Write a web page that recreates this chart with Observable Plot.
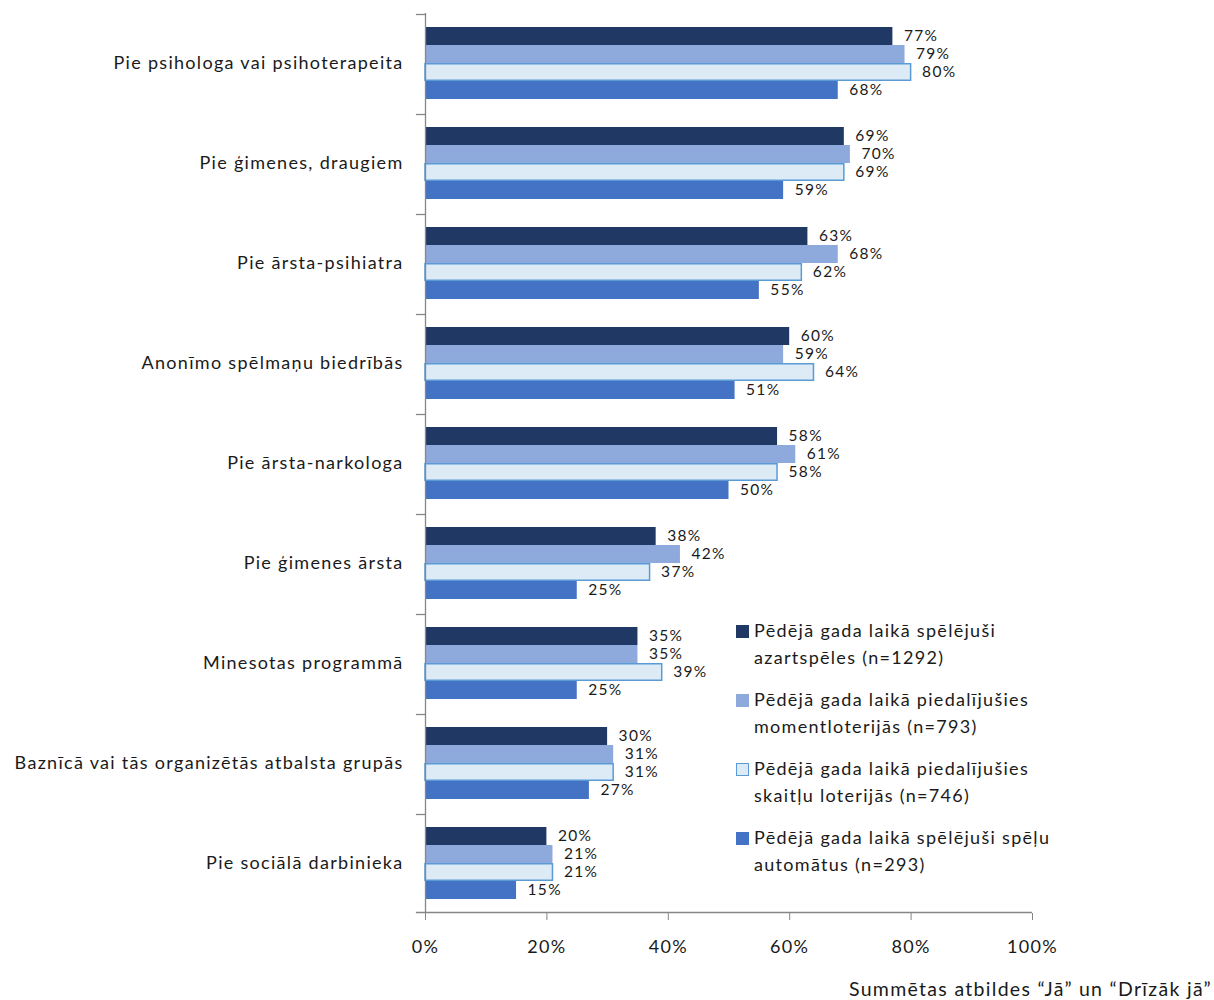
<!DOCTYPE html>
<html>
<head>
<meta charset="utf-8">
<script src="https://cdn.jsdelivr.net/npm/d3@7"></script>
<script src="https://cdn.jsdelivr.net/npm/@observablehq/plot@0.6"></script>
<style>
  body { margin: 0; background: #fff; font-family: Lato, "Open Sans", sans-serif; color: #1a1a1a; }
  #wrap { position: relative; width: 1214px; height: 1000px; }
  #legend { position: absolute; left: 736px; top: 617px; font-size: 18px; letter-spacing: 1.3px; }
  .item { display: flex; align-items: flex-start; margin-bottom: 15px; line-height: 27px; }
  .sw { width: 13px; height: 13px; margin-top: 8px; margin-right: 5px; box-sizing: border-box; flex: none; }
  #caption { position: absolute; right: 2px; top: 977px; font-size: 19.5px; letter-spacing: 1.3px; white-space: nowrap; }
</style>
</head>
<body>
<div id="wrap">
  <div id="chart"></div>
  <div id="legend"></div>
  <div id="caption">Summētas atbildes “Jā” un “Drīzāk jā”</div>
</div>
<script>
const categories = [
  "Pie psihologa vai psihoterapeita",
  "Pie ģimenes, draugiem",
  "Pie ārsta-psihiatra",
  "Anonīmo spēlmaņu biedrībās",
  "Pie ārsta-narkologa",
  "Pie ģimenes ārsta",
  "Minesotas programmā",
  "Baznīcā vai tās organizētās atbalsta grupās",
  "Pie sociālā darbinieka"
];
const seriesLines = [
  ["Pēdējā gada laikā spēlējuši", "azartspēles (n=1292)"],
  ["Pēdējā gada laikā piedalījušies", "momentloterijās (n=793)"],
  ["Pēdējā gada laikā piedalījušies", "skaitļu loterijās (n=746)"],
  ["Pēdējā gada laikā spēlējuši spēļu", "automātus (n=293)"]
];
const seriesNames = seriesLines.map(l => l.join(" "));
const azartspeles     = [77, 69, 63, 60, 58, 38, 35, 30, 20];
const momentloterijas = [79, 70, 68, 59, 61, 42, 35, 31, 21];
const skaitluLoterijas= [80, 69, 62, 64, 58, 37, 39, 31, 21];
const automati        = [68, 59, 55, 51, 50, 25, 25, 27, 15];
const xTicks = [0, 20, 40, 60, 80, 100];

const fills = ["#203864", "#8EA9DB", "#DDEBF7", "#4472C4"];
const strokes = ["none", "none", "#5B9BD5", "none"];

const allSeries = [azartspeles, momentloterijas, skaitluLoterijas, automati];
const data = [];
categories.forEach((c, i) => {
  allSeries.forEach((arr, j) => {
    data.push({cat: c, series: seriesNames[j], value: arr[i]});
  });
});
const pale = seriesNames[2];

const chart = Plot.plot({
  width: 1214,
  height: 960,
  marginLeft: 425,
  marginRight: 182,
  marginTop: 13,
  marginBottom: 47,
  style: {fontFamily: "Lato, 'Open Sans', sans-serif", fontSize: "18px", letterSpacing: "1.3px", color: "#1a1a1a", background: "#fff"},
  x: {domain: [0, 100], label: null},
  fy: {domain: categories, padding: 0, label: null},
  y: {domain: seriesNames, paddingInner: 0, paddingOuter: 0.7, axis: null},
  color: {domain: seriesNames, range: fills},
  marks: [
    Plot.barX(data.filter(d => d.series !== pale), {fy: "cat", y: "series", x: "value", fill: "series"}),
    Plot.barX(data.filter(d => d.series === pale), {fy: "cat", y: "series", x: "value", fill: "series", stroke: "#5B9BD5", strokeWidth: 1.5, insetTop: 0.75, insetBottom: 0.75}),
    Plot.text(data, {fy: "cat", y: "series", x: "value", text: d => d.value + "%", textAnchor: "start", dx: 11, fontSize: 15.5, letterSpacing: "1.6px", fill: "#1a1a1a"}),
    Plot.ruleX([0], {stroke: "#868686", strokeWidth: 1.3}),
    Plot.ruleY([seriesNames[0]], {x1: -1.5, x2: 0, dy: -22, stroke: "#868686", strokeWidth: 1.3}),
    Plot.ruleY([{cat: categories[categories.length - 1], series: seriesNames[3]}], {fy: "cat", y: "series", x1: -1.5, x2: 100, dy: 22, stroke: "#868686", strokeWidth: 1.3}),
    Plot.axisX({ticks: xTicks, tickFormat: d => d + "%", tickSize: 7, tickPadding: 20, stroke: "#868686", fill: "#1a1a1a", label: null}),
    Plot.axisFy({anchor: "left", tickSize: 0, tickPadding: 22, fill: "#1a1a1a", label: null})
  ]
});
document.getElementById("chart").appendChild(chart);

const legend = document.getElementById("legend");
seriesLines.forEach((lines, i) => {
  const item = document.createElement("div");
  item.className = "item";
  const sw = document.createElement("div");
  sw.className = "sw";
  sw.style.background = fills[i];
  if (strokes[i] !== "none") sw.style.border = "1.5px solid " + strokes[i];
  const txt = document.createElement("div");
  txt.innerHTML = lines.join("<br>");
  item.appendChild(sw);
  item.appendChild(txt);
  legend.appendChild(item);
});
</script>
</body>
</html>
